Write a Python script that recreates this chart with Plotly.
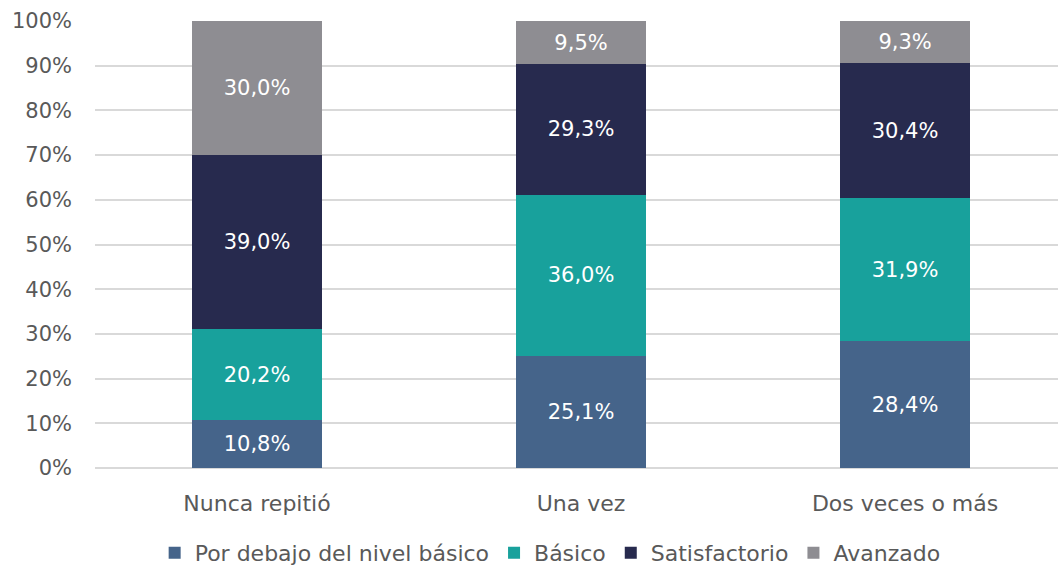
import plotly.graph_objects as go

categories = ["Nunca repitió", "Una vez", "Dos veces o más"]
series_names = ["Por debajo del nivel básico", "Básico", "Satisfactorio", "Avanzado"]
por_debajo = [10.8, 25.1, 28.4]
basico = [20.2, 36.0, 31.9]
satisfactorio = [39.0, 29.3, 30.4]
avanzado = [30.0, 9.5, 9.3]
colors = ["#45648A", "#18A19C", "#272A4E", "#8E8D92"]

font_family = "DejaVu Sans, sans-serif"

fig = go.Figure()
for name, vals, col in zip(series_names, [por_debajo, basico, satisfactorio, avanzado], colors):
    fig.add_trace(go.Bar(
        x=categories, y=vals, name=name,
        marker=dict(color=col, line=dict(width=0)),
        text=vals, texttemplate="%{y:.1f}%", textposition="inside",
        insidetextanchor="middle",
        textfont=dict(color="white", size=21, family=font_family),
        hoverinfo="skip",
    ))

fig.update_layout(
    barmode="stack",
    bargap=0.6,
    separators=",.",
    width=1058, height=566,
    margin=dict(l=95, r=0, t=21, b=98),
    paper_bgcolor="white", plot_bgcolor="white",
    font=dict(family=font_family, color="#595959", size=21),
    uniformtext=dict(mode="show", minsize=21),
    legend=dict(orientation="h", xref="container", yref="container",
                x=0.52, xanchor="center", y=0.023, yanchor="middle",
                font=dict(size=22, color="#595959"), traceorder="normal",
                itemwidth=30, tracegroupgap=0),
    xaxis=dict(showline=False, ticks="", tickfont=dict(size=22, color="#595959"),
               range=[-0.5, 2.472], autorange=False, ticklabelstandoff=20),
    yaxis=dict(range=[0, 100], dtick=10, ticksuffix="%", showgrid=True,
               gridcolor="#D9D9D9", gridwidth=2, zeroline=True, zerolinecolor="#D9D9D9",
               zerolinewidth=2, tickfont=dict(size=21, color="#595959"), ticks="",
               ticklabelstandoff=22),
)

fig.write_html(
    "out.html",
    config={"displayModeBar": False},
    post_script="document.body.style.margin='0';document.body.style.padding='0';document.body.style.overflow='hidden';",
)
